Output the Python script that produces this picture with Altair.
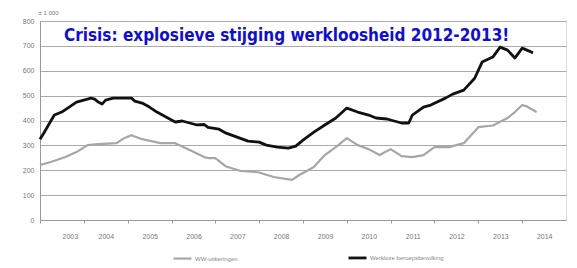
import altair as alt
import pandas as pd

# Werkloze beroepsbevolking (x 1 000)
black_dates = ["2003-01", "2003-02", "2003-04", "2003-05", "2003-07", "2003-09", "2003-11",
               "2004-01", "2004-03", "2004-04", "2004-05", "2004-06", "2004-07", "2004-09",
               "2004-12", "2005-02", "2005-03", "2005-05", "2005-07", "2005-09", "2005-11",
               "2006-01", "2006-02", "2006-04", "2006-06", "2006-08", "2006-10", "2006-11",
               "2007-02", "2007-04", "2007-07", "2007-10", "2008-01", "2008-03", "2008-06",
               "2008-09", "2008-11", "2009-01", "2009-04", "2009-07", "2009-10", "2010-01",
               "2010-04", "2010-07", "2010-09", "2010-12", "2011-04", "2011-06", "2011-07",
               "2011-10", "2011-12", "2012-04", "2012-06", "2012-09", "2012-12", "2013-02",
               "2013-05", "2013-07", "2013-09", "2013-11", "2014-01", "2014-03", "2014-04"]
black_values = [325, 349, 398, 422, 434, 454, 474,
                482, 490, 486, 474, 466, 482, 490,
                490, 490, 478, 470, 454, 434, 418,
                402, 394, 398, 390, 382, 384, 372,
                365, 349, 333, 317, 313, 301, 293,
                289, 297, 321, 353, 382, 410, 450,
                434, 422, 410, 406, 390, 390, 422,
                454, 462, 490, 506, 522, 570, 635,
                655, 695, 683, 651, 691, 679, 671]

# WW-uitkeringen (x 1 000)
gray_dates = ["2003-01", "2003-04", "2003-08", "2003-11", "2004-02", "2004-05", "2004-10",
              "2004-12", "2005-02", "2005-05", "2005-10", "2006-02", "2006-06", "2006-10",
              "2006-11", "2007-01", "2007-04", "2007-08", "2007-12", "2008-01", "2008-05",
              "2008-10", "2008-12", "2009-04", "2009-07", "2009-10", "2010-01", "2010-04",
              "2010-07", "2010-10", "2011-01", "2011-04", "2011-07", "2011-10", "2012-01",
              "2012-05", "2012-09", "2013-01", "2013-05", "2013-09", "2013-11", "2014-01",
              "2014-02", "2014-05"]
gray_values = [221, 233, 253, 273, 301, 305, 309,
               329, 341, 325, 309, 309, 281, 253,
               249, 249, 215, 197, 193, 191, 173,
               161, 181, 213, 261, 293, 329, 301,
               285, 261, 285, 257, 253, 261, 293,
               293, 309, 373, 380, 410, 434, 462,
               458, 434]

series_names = ["WW-uitkeringen", "Werkloze beroepsbevolking"]
series_colors = ["#a6a6a6", "#111111"]
year_ticks = list(range(2003, 2015))
y_ticks = [0, 100, 200, 300, 400, 500, 600, 700, 800]
title_text = "Crisis: explosieve stijging werkloosheid 2012-2013!"

df = pd.concat([
    pd.DataFrame({"datum": pd.to_datetime(gray_dates), "waarde": gray_values, "reeks": series_names[0]}),
    pd.DataFrame({"datum": pd.to_datetime(black_dates), "waarde": black_values, "reeks": series_names[1]}),
])

x = alt.X("datum:T",
          scale=alt.Scale(domain=[alt.DateTime(year=2003, month=1, date=1),
                                  alt.DateTime(year=2015, month=1, date=1)]),
          axis=alt.Axis(values=[alt.DateTime(year=yr, month=1, date=1) for yr in year_ticks],
                        format="%Y", labelOffset=22, labelFontSize=7, labelColor="#777777",
                        labelPadding=9, tickSize=3, tickColor="#999999", domainColor="#999999",
                        grid=False, title=None))
y = alt.Y("waarde:Q", scale=alt.Scale(domain=[0, 800]),
          axis=alt.Axis(values=y_ticks, labelFontSize=7, labelColor="#777777", tickSize=0,
                        labelPadding=6, domainColor="#999999", gridColor="#aaaaaa",
                        gridWidth=1, title="± 1 000", titleAngle=0, titleAlign="left",
                        titleBaseline="middle", titleX=-2, titleY=-9, titleFontSize=6,
                        titleFontWeight="normal", titleColor="#777777"))

lines = alt.Chart(df).mark_line(strokeJoin="round").encode(
    x=x, y=y,
    color=alt.Color("reeks:N", scale=alt.Scale(domain=series_names, range=series_colors),
                    sort=series_names,
                    legend=alt.Legend(orient="none", legendX=132, legendY=226, direction="horizontal",
                                      title=None, symbolType="stroke", symbolSize=324,
                                      symbolStrokeWidth=2.5, labelFontSize=6,
                                      labelColor="#888888", labelOffset=2,
                                      columnPadding=104)),
    strokeWidth=alt.StrokeWidth("reeks:N", scale=alt.Scale(domain=series_names, range=[2.2, 2.8]),
                                legend=None),
)

title = alt.Chart(pd.DataFrame({"t": [title_text]})).mark_text(
    align="left", baseline="alphabetic", font="DejaVu Sans Condensed, Liberation Sans",
    fontSize=17, fontWeight="bold", color="#1010cc"
).encode(x=alt.value(24), y=alt.value(20), text="t:N")

chart = alt.layer(lines, title).properties(
    width=526, height=199,
    autosize=alt.AutoSizeParams(type="none"),
    padding={"left": 32, "top": 13, "right": 3, "bottom": 48},
).configure_view(stroke="#cccccc", strokeWidth=1).configure(font="Liberation Sans")

chart.save("out.html", embed_options={"renderer": "svg", "actions": False})
